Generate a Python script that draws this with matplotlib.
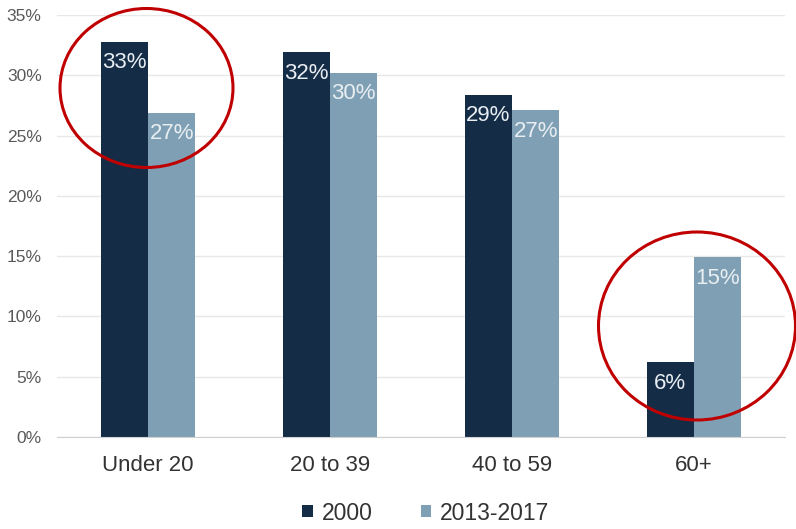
import matplotlib
matplotlib.use("Agg")
import matplotlib.pyplot as plt
from matplotlib.patches import Ellipse
import numpy as np

plt.rcParams['font.family'] = ['Liberation Sans', 'DejaVu Sans']

categories = ["Under 20", "20 to 39", "40 to 59", "60+"]
series_names = ["2000", "2013-2017"]
values_2000 = [32.8, 31.9, 28.4, 6.2]
values_2013_2017 = [26.9, 30.2, 27.1, 14.9]
labels_2000 = ["33%", "32%", "29%", "6%"]
labels_2013_2017 = ["27%", "30%", "27%", "15%"]
yticks = [0, 5, 10, 15, 20, 25, 30, 35]

dark = "#152C47"
light = "#7FA0B4"

fig = plt.figure(figsize=(7.96, 5.29), dpi=100)
ax = fig.add_axes([57/796, 1-437/529, (785-57)/796, (437-15)/529])

x = np.arange(len(categories))
w = 0.26
b1 = ax.bar(x - w/2, values_2000, w, color=dark, label=series_names[0], zorder=3)
b2 = ax.bar(x + w/2, values_2013_2017, w, color=light, label=series_names[1], zorder=3)

for bars, labs in ((b1, labels_2000), (b2, labels_2013_2017)):
    for r, t in zip(bars, labs):
        ax.annotate(t, (r.get_x() + r.get_width()/2, r.get_height()),
                    xytext=(0, -7.5), textcoords="offset points",
                    ha="center", va="top", color="#E8EEF2", fontsize=16, zorder=4)

ax.set_xlim(-0.5, 3.5)
ax.set_ylim(0, 35)
ax.set_yticks(yticks)
ax.set_yticklabels([f"{v}%" for v in yticks])
ax.set_xticks(x)
ax.set_xticklabels(categories)
ax.tick_params(axis="y", length=0, labelsize=12.5, labelcolor="#595959", pad=11)
ax.tick_params(axis="x", length=0, labelsize=16, labelcolor="#333333", pad=13)
ax.grid(axis="y", color="#E8E8E8", linewidth=1, zorder=0)
for s in ["top", "right", "left"]:
    ax.spines[s].set_visible(False)
ax.spines["bottom"].set_color("#D0D0D0")
ax.spines["bottom"].set_zorder(5)

leg = fig.legend(handles=[b1, b2], labels=series_names, loc="center",
                 bbox_to_anchor=(426/796, 1-513/529), ncol=2, frameon=False,
                 fontsize=16.5, handlelength=0.45, handleheight=0.45,
                 handletextpad=0.4, columnspacing=2.1)
for t in leg.get_texts():
    t.set_color("#333333")

red = "#C00000"
fig.patches.append(Ellipse((146.5/796, 1-88/529), 173/796, 159/529,
                           transform=fig.transFigure, fill=False,
                           edgecolor=red, linewidth=2.2, zorder=10))
fig.patches.append(Ellipse((697/796, 1-326/529), 197/796, 188/529,
                           transform=fig.transFigure, fill=False,
                           edgecolor=red, linewidth=2.2, zorder=10))

fig.savefig("out.png", dpi=100, facecolor="white")
